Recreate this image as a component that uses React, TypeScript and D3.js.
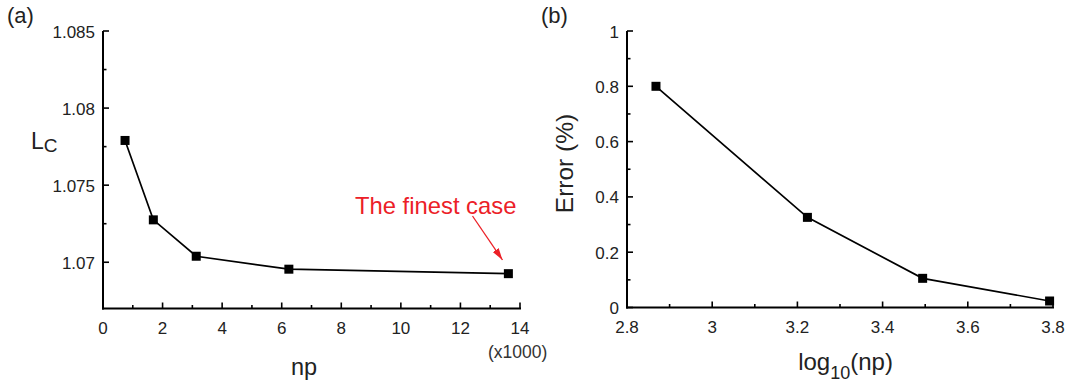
import { useEffect, useRef } from 'react'
import * as d3 from 'd3'

// panel (a): Lc against number of particles (x1000)
const npValues = [0.74, 1.69, 3.13, 6.24, 13.61]
const lcValues = [1.0779, 1.07275, 1.07039, 1.06955, 1.06926]
const aXTicks = [0, 2, 4, 6, 8, 10, 12, 14]
const aXMinor = [1, 3, 5, 7, 9, 11, 13]
const aYTicks = [1.07, 1.075, 1.08, 1.085]
const aYMinor = [1.0725, 1.0775, 1.0825]

// panel (b): error against log10(np)
const logNp = [2.868, 3.2235, 3.494, 3.792]
const errValues = [0.8, 0.326, 0.1055, 0.0235]
const bXTicks = [2.8, 3, 3.2, 3.4, 3.6, 3.8]
const bXMinor = [2.9, 3.1, 3.3, 3.5, 3.7]
const bYTicks = [0, 0.2, 0.4, 0.6, 0.8, 1]
const bYMinor = [0.1, 0.3, 0.5, 0.7, 0.9]

const FONT = '"Liberation Sans", Arial, sans-serif'
const INK = '#222'

export default function App() {
  const svgRef = useRef<SVGSVGElement>(null)

  useEffect(() => {
    const svg = d3.select(svgRef.current)
    svg.selectAll('*').remove()
    svg.attr('font-family', FONT)

    const drawAxes = (
      x: d3.ScaleLinear<number, number>,
      y: d3.ScaleLinear<number, number>,
      xt: number[], xMinor: number[],
      yt: number[], yMinor: number[],
      fmt: (d: number) => string,
    ) => {
      const [x0, x1] = x.range()
      const [y0, y1] = y.range()
      const g = svg.append('g')
      g.append('line').attr('x1', x0).attr('x2', x0).attr('y1', y0 + 1).attr('y2', y1)
        .attr('stroke', '#000').attr('stroke-width', 2)
      g.append('line').attr('x1', x0 - 1).attr('x2', x1 + 1).attr('y1', y0).attr('y2', y0)
        .attr('stroke', '#000').attr('stroke-width', 2)
      xt.forEach(t => {
        g.append('line').attr('x1', x(t)).attr('x2', x(t)).attr('y1', y0).attr('y2', y0 - 6)
          .attr('stroke', '#000').attr('stroke-width', 1.6)
        g.append('text').attr('x', x(t)).attr('y', y0 + 25).attr('text-anchor', 'middle')
          .attr('font-size', 17).attr('fill', INK).text(fmt(t))
      })
      xMinor.forEach(t => {
        g.append('line').attr('x1', x(t)).attr('x2', x(t)).attr('y1', y0).attr('y2', y0 - 3.5)
          .attr('stroke', '#000').attr('stroke-width', 1.6)
      })
      yt.forEach(t => {
        g.append('line').attr('x1', x0).attr('x2', x0 + 6).attr('y1', y(t)).attr('y2', y(t))
          .attr('stroke', '#000').attr('stroke-width', 1.6)
        g.append('text').attr('x', x0 - 8).attr('y', y(t) + 6.5).attr('text-anchor', 'end')
          .attr('font-size', 17).attr('fill', INK).text(fmt(t))
      })
      yMinor.forEach(t => {
        g.append('line').attr('x1', x0).attr('x2', x0 + 3.5).attr('y1', y(t)).attr('y2', y(t))
          .attr('stroke', '#000').attr('stroke-width', 1.6)
      })
    }

    const drawSeries = (pts: [number, number][]) => {
      svg.append('path').attr('d', d3.line()(pts)).attr('fill', 'none')
        .attr('stroke', '#000').attr('stroke-width', 1.7)
      svg.append('g').selectAll('rect').data(pts).enter().append('rect')
        .attr('x', d => d[0] - 4.5).attr('y', d => d[1] - 4.5)
        .attr('width', 9).attr('height', 9).attr('fill', '#000')
    }

    const fmt = (d: number) => String(+d.toFixed(3))

    // ---- panel (a)
    const xa = d3.scaleLinear().domain([0, 14]).range([103, 520])
    const ya = d3.scaleLinear().domain([1.067, 1.085]).range([308.5, 31])
    drawAxes(xa, ya, aXTicks, aXMinor, aYTicks, aYMinor, fmt)
    drawSeries(npValues.map((v, i) => [xa(v), ya(lcValues[i])] as [number, number]))

    svg.append('text').attr('x', 7).attr('y', 23).attr('font-size', 22).attr('fill', INK).text('(a)')
    const lc = svg.append('text').attr('x', 31).attr('y', 148.5).attr('font-size', 23).attr('fill', INK)
    lc.append('tspan').text('L')
    lc.append('tspan').attr('font-size', 19).attr('dy', 3.4).text('C')
    svg.append('text').attr('x', 304).attr('y', 375).attr('text-anchor', 'middle')
      .attr('font-size', 23.5).attr('fill', INK).text('np')
    svg.append('text').attr('x', 488).attr('y', 358).attr('font-size', 17.5).attr('fill', '#333').text('(x1000)')

    // annotation: the finest case
    const red = '#ec2027'
    svg.append('text').attr('x', 355).attr('y', 213.5).attr('font-size', 23.8).attr('fill', red)
      .text('The finest case')
    svg.append('defs').append('marker').attr('id', 'arrowhead').attr('viewBox', '0 0 12 8')
      .attr('refX', 12).attr('refY', 4).attr('markerWidth', 12).attr('markerHeight', 8)
      .attr('markerUnits', 'userSpaceOnUse').attr('orient', 'auto')
      .append('path').attr('d', 'M0,0.5 L12,4 L0,7.5 Z').attr('fill', red)
    svg.append('line').attr('x1', 472.5).attr('y1', 216).attr('x2', 502.5).attr('y2', 260)
      .attr('stroke', red).attr('stroke-width', 1.3).attr('marker-end', 'url(#arrowhead)')

    // ---- panel (b)
    const xb = d3.scaleLinear().domain([2.8, 3.8]).range([627, 1053])
    const yb = d3.scaleLinear().domain([0, 1]).range([307.5, 31])
    drawAxes(xb, yb, bXTicks, bXMinor, bYTicks, bYMinor, fmt)
    drawSeries(logNp.map((v, i) => [xb(v), yb(errValues[i])] as [number, number]))

    svg.append('text').attr('x', 541).attr('y', 23).attr('font-size', 22).attr('fill', INK).text('(b)')
    svg.append('text').attr('transform', 'translate(573,163.5) rotate(-90)').attr('text-anchor', 'middle')
      .attr('font-size', 24.5).attr('fill', INK).text('Error (%)')
    const lg = svg.append('text').attr('x', 845.5).attr('y', 370).attr('text-anchor', 'middle')
      .attr('font-size', 24).attr('fill', INK)
    lg.append('tspan').text('log')
    lg.append('tspan').attr('font-size', 18).attr('dy', 9).text('10')
    lg.append('tspan').attr('dy', -9).text('(np)')
  }, [])

  return (
    <div style={{ position: 'absolute', left: 0, top: 0, background: '#fff' }}>
      <svg ref={svgRef} width={1071} height={386} style={{ display: 'block' }} />
    </div>
  )
}
